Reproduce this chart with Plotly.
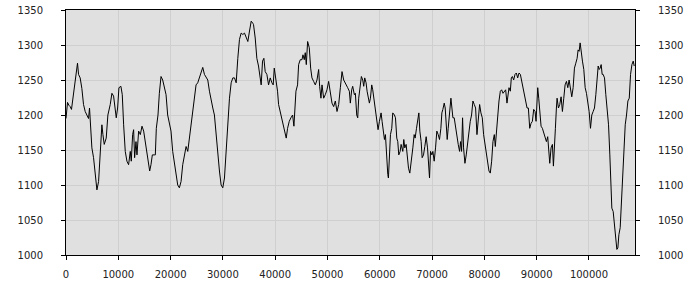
import plotly.graph_objects as go

X = [0, 290, 540, 800, 1050, 1310, 1560, 1820, 2200, 2400, 2710, 3030, 3350, 3670, 3990, 4310, 4500, 4630, 4950, 5270, 5590, 5910, 6230, 6550, 6860, 7060, 7310, 7690, 8010, 8460, 8780, 9100, 9420, 9610, 9870, 10120, 10500, 10760, 11020, 11330, 11650, 11970, 12290, 12480, 12740, 12930, 13120, 13380, 13570, 13890, 14210, 14530, 14850, 15170, 15490, 15800, 16000, 16250, 16510, 16890, 17080, 17270, 17590, 17850,
     18170, 18490, 18810, 19130, 19440, 19760, 20080, 20400, 20720, 21040, 21360, 21680, 22000, 22320, 22640, 22960, 23280, 23600, 23920, 24230, 24550, 24870, 25190, 25510, 25830, 26150, 26470, 26790, 27110, 27430, 27750, 28070, 28380, 28700, 29020, 29340, 29660, 29980, 30300, 30620, 30940, 31260, 31580, 31900, 32220, 32540, 32850, 33170, 33490, 33810, 34130, 34450, 34770, 35090, 35410, 35730,
     35860, 36180, 36490, 36810, 37130, 37320, 37580, 37840, 38090, 38410, 38730, 39050, 39370, 39620, 39820, 40130, 40450, 40650, 40960, 41280, 41600, 41920, 42110, 42370, 42690, 43010, 43330, 43580, 43710, 43970, 44280, 44480, 44800, 45120, 45310, 45560, 45750, 45950, 46200, 46520, 46780, 47030, 47350, 47670, 47990, 48310, 48500, 48750, 48950, 49270, 49580, 49900, 50220, 50540, 50860, 51180, 51500, 51820, 52140, 52460, 52780, 53100, 53420, 53740,
     53860, 54180, 54370, 54630, 54820, 55140, 55330, 55590, 55780, 55970, 56230, 56480, 56740, 56930, 57120, 57380, 57570, 57760, 58010, 58210, 58460, 58650, 58840, 59100, 59420, 59670, 59930, 60250, 60440, 60700, 60890, 61080, 61270, 61530, 61650, 61850, 62040, 62290, 62480, 62800, 63000, 63250, 63440, 63630, 63890, 64080, 64400, 64590, 64780, 65040, 65230, 65490, 65740, 66000, 66320, 66570, 66760, 67020, 67270, 67470, 67660, 67910, 68100, 68360, 68610, 68870, 69130, 69380, 69510, 69700, 69960, 70150, 70400, 70660, 70910, 71170, 71420, 71680, 71870,
     72060, 72320, 72510, 72700, 72890, 73080, 73340, 73600, 73790, 73980, 74230, 74490, 74750, 75000, 75260, 75450, 75640, 75830, 76020, 76280, 76530, 76790, 77040, 77300, 77550, 77810, 78070, 78320, 78580, 78830, 79090, 79340, 79600, 79850, 80110, 80360, 80620, 80880, 81130, 81390, 81640, 81900, 82090, 82280, 82540, 82790, 83050, 83300, 83560, 83810, 84070, 84320, 84520, 84710, 84960, 85150, 85350, 85600, 85860, 86110, 86370, 86620, 86880, 87130, 87390, 87640, 87900, 88160, 88410, 88670, 88920, 89180, 89430, 89690, 89880,
     90070, 90200, 90390, 90640, 90840, 91090, 91350, 91600, 91860, 92110, 92310, 92500, 92750, 93010, 93200, 93390, 93580, 93770, 93900, 94160, 94410, 94670, 94920, 95180, 95430, 95690, 95950, 96200, 96460, 96710, 96970, 97220, 97480, 97730, 97920, 98120, 98310, 98500, 98750, 99010, 99270, 99520, 99780, 100030, 100290, 100540, 100800, 101050, 101310, 101560, 101760, 101950, 102140, 102330, 102520, 102710, 102970, 103220, 103480, 103740, 103990, 104180, 104370, 104630, 104890, 105140, 105330, 105520, 105720, 105970, 106160, 106420, 106670, 106930, 107180, 107440, 107700, 107950, 108210, 108460, 108650]

Y = [1195, 1218, 1214, 1212, 1208, 1222, 1234, 1250, 1274, 1258, 1253, 1238, 1215, 1205, 1200, 1195, 1210, 1191, 1153, 1139, 1120, 1093, 1105, 1139, 1186, 1172, 1158, 1167, 1200, 1215, 1231, 1227, 1210, 1196, 1210, 1239, 1241, 1229, 1186, 1148, 1134, 1129, 1148, 1134, 1172, 1179, 1139, 1162, 1143, 1177, 1172, 1184, 1177, 1162, 1143, 1134, 1120, 1129, 1143, 1143, 1143, 1181, 1200, 1231,
     1255, 1250, 1239, 1229, 1200, 1186, 1177, 1148, 1134, 1120, 1100, 1096, 1105, 1129, 1143, 1155, 1148, 1167, 1186, 1210, 1231, 1243, 1246, 1253, 1260, 1268, 1258, 1253, 1250, 1234, 1220, 1210, 1200, 1172, 1143, 1120, 1100, 1096, 1110, 1153, 1191, 1224, 1246, 1253, 1253, 1246, 1281, 1308, 1317, 1315, 1317, 1312, 1305, 1320, 1334, 1331,
     1329, 1310, 1281, 1270, 1248, 1243, 1277, 1281, 1262, 1258, 1243, 1253, 1246, 1243, 1267, 1253, 1234, 1215, 1205, 1191, 1181, 1174, 1167, 1181, 1191, 1196, 1200, 1184, 1200, 1234, 1243, 1272, 1279, 1279, 1286, 1279, 1289, 1272, 1305, 1296, 1267, 1253, 1248, 1243, 1250, 1265, 1241, 1224, 1243, 1224, 1229, 1236, 1248, 1229, 1217, 1212, 1220, 1205, 1215, 1239, 1262, 1250, 1246, 1241,
     1239, 1234, 1217, 1236, 1241, 1229, 1231, 1200, 1196, 1224, 1239, 1255, 1250, 1241, 1253, 1246, 1234, 1224, 1217, 1224, 1243, 1236, 1226, 1205, 1191, 1179, 1191, 1203, 1191, 1172, 1165, 1172, 1143, 1115, 1110, 1134, 1172, 1181, 1203, 1200, 1196, 1167, 1162, 1143, 1148, 1158, 1148, 1165, 1153, 1158, 1143, 1124, 1117, 1131, 1153, 1172, 1167, 1181, 1193, 1203, 1177, 1162, 1139, 1143, 1155, 1169, 1153, 1115, 1110, 1148, 1143, 1148, 1134, 1153, 1177, 1172, 1165, 1181, 1203,
     1208, 1217, 1210, 1181, 1165, 1181, 1200, 1224, 1210, 1196, 1196, 1181, 1167, 1158, 1148, 1162, 1148, 1196, 1153, 1131, 1143, 1162, 1177, 1191, 1200, 1220, 1215, 1210, 1172, 1196, 1215, 1203, 1196, 1172, 1158, 1143, 1134, 1120, 1117, 1134, 1162, 1172, 1155, 1174, 1200, 1220, 1234, 1236, 1231, 1234, 1236, 1217, 1229, 1239, 1234, 1253, 1255, 1250, 1258, 1260, 1253, 1260, 1258, 1248, 1239, 1226, 1217, 1210, 1210, 1181, 1188, 1191, 1208, 1205, 1191,
     1220, 1239, 1224, 1196, 1184, 1181, 1174, 1167, 1162, 1169, 1143, 1131, 1153, 1158, 1127, 1148, 1181, 1210, 1224, 1210, 1215, 1226, 1205, 1224, 1243, 1248, 1239, 1250, 1234, 1226, 1239, 1267, 1274, 1281, 1293, 1291, 1303, 1288, 1277, 1265, 1239, 1231, 1220, 1205, 1181, 1200, 1205, 1210, 1229, 1250, 1270, 1265, 1267, 1272, 1258, 1258, 1253, 1229, 1205, 1186, 1143, 1096, 1067, 1062, 1039, 1020, 1008, 1010, 1029, 1039, 1072, 1115, 1148, 1186, 1200, 1220, 1224, 1258, 1272, 1277, 1270]

X_RANGE = [0, 108800]
Y_RANGE = [1000, 1350]

FONT = dict(family="DejaVu Sans", size=10, color="#222222")
GRID = "#cfcfcf"

fig = go.Figure()
fig.add_trace(go.Scatter(x=X, y=Y, mode="lines", line=dict(color="black", width=1),
                         showlegend=False, hoverinfo="skip"))
fig.add_trace(go.Scatter(x=[X[0]], y=[Y[0]], yaxis="y2", mode="markers",
                         marker=dict(opacity=0), showlegend=False, hoverinfo="skip"))

fig.update_layout(
    width=700, height=300,
    margin=dict(l=66, r=65, t=10, b=45, pad=0, autoexpand=False),
    paper_bgcolor="white",
    plot_bgcolor="#e0e0e0",
    font=FONT,
    xaxis=dict(range=X_RANGE, dtick=10000, tick0=0, showgrid=True, gridcolor=GRID, gridwidth=1,
               showline=True, linecolor="black", linewidth=1, mirror=True, automargin=False,
               ticks="outside", ticklen=4, tickcolor="black", tickformat="d",
               zeroline=False, ticklabelstandoff=6, tickfont=FONT),
    yaxis=dict(range=Y_RANGE, dtick=50, tick0=1000, showgrid=True, gridcolor=GRID, gridwidth=1,
               showline=True, linecolor="black", linewidth=1, mirror=True, automargin=False,
               ticks="outside", ticklen=4, tickcolor="black", tickformat="d",
               zeroline=False, ticklabelstandoff=16, tickfont=FONT),
    yaxis2=dict(range=Y_RANGE, dtick=50, tick0=1000, overlaying="y", side="right", automargin=False,
                showgrid=False, showline=False, ticks="outside", ticklen=4, tickcolor="black",
                tickformat="d", zeroline=False, ticklabelstandoff=16, tickfont=FONT),
)

fig.write_html("out.html")
